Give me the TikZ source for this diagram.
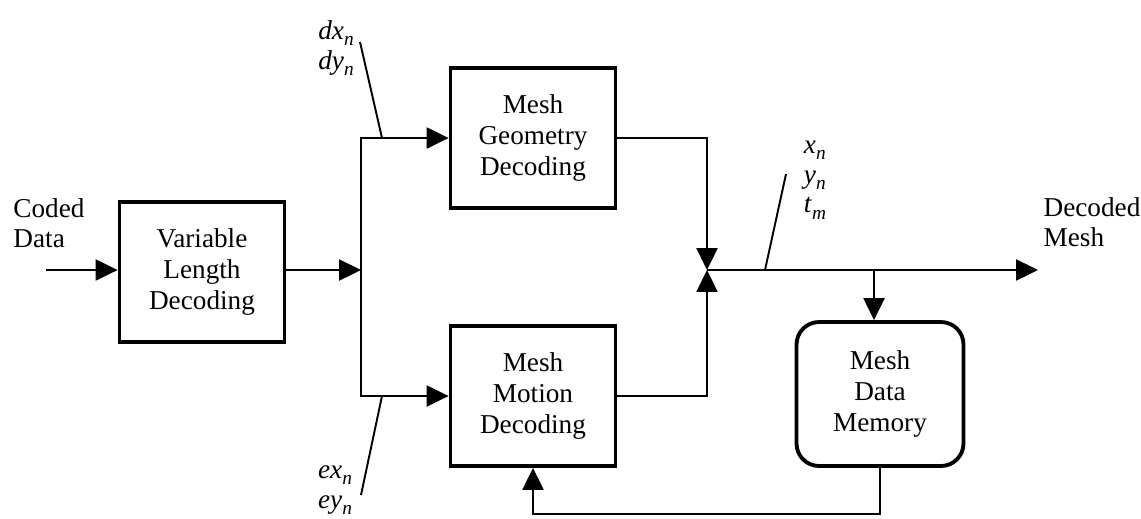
\documentclass[tikz,border=0pt]{standalone}
\usepackage{fontspec}
\setmainfont{Liberation Serif}
\usetikzlibrary{arrows.meta, positioning, calc}
\newcommand{\sig}[2]{\textit{#1}\raisebox{-0.5ex}{\fontsize{11}{11}\selectfont\textit{#2}}}
\tikzset{
    % block styles
    block/.style={
        rectangle,
        draw=black,
        line width=2.2pt,
        minimum width=3.3cm,
        minimum height=2.8cm,
        align=center,
        font=\fontsize{15.5}{17.6}\selectfont
    },
    memory block/.style={
        block,
        rounded corners=0.45cm,
        minimum width=3.34cm,
        minimum height=2.88cm
    },
    label text/.style={
        align=left,
        inner sep=0pt,
        font=\fontsize{15.5}{17}\selectfont
    },
    arrow style/.style={
        -{Triangle[length=12.5pt,width=12pt]},
        line width=1.1pt
    },
    wire style/.style={
        line width=1.1pt
    }
}
\begin{document}
\begin{tikzpicture}[x=0.02cm, y=-0.02cm]
        \useasboundingbox (0,0) rectangle (1141,518);

        % Blocks
        \node[block] (vld) at (202, 272) {Variable\\Length\\Decoding};
        \node[block] (mgd) at (533, 138) {Mesh\\Geometry\\Decoding};
        \node[block] (mmd) at (533, 396) {Mesh\\Motion\\Decoding};
        \node[memory block] (mem) at (880, 394) {Mesh\\Data\\Memory};

        % Junctions
        \coordinate (in) at (46, 270);
        \coordinate (split) at (361, 270);
        \coordinate (merge) at (707, 270);
        \coordinate (tap) at (874, 270);
        \coordinate (out) at (1038, 270);

        % Input and output texts
        \node[label text] (coded) at (49, 223) {Coded\\Data};
        \node[label text] (decoded) at (1092, 222) {Decoded\\Mesh};

        % Arrows
        \draw[arrow style] (in) -- (vld.west |- in);
        \draw[arrow style] (vld.east |- split) -- (split);
        \draw[arrow style] (split) |- (mgd.west);
        \draw[arrow style] (split) |- (mmd.west);
        \draw[arrow style] (mgd.east) -| (merge);
        \draw[arrow style] (mmd.east) -| (merge);
        \draw[arrow style] (merge) -- (out);
        \draw[arrow style] (tap) -- (tap |- mem.north);
        \draw[arrow style] (mem.south) -- ++(0, 46) -| (mmd.south);

        % Signal labels
        \coordinate (dxfoot) at (382, 138);
        \coordinate (exfoot) at (382, 396);
        \coordinate (xfoot) at (765, 270);
        \node[label text] (dxlab) at (336, 48) {\sig{dx}{n}\\\sig{dy}{n}};
        \node[label text] (exlab) at (335, 490) {\sig{ex}{n}\\\sig{ey}{n}};
        \node[label text] (xlab) at (815, 180) {\sig{x}{n}\\\sig{y}{n}\\\sig{t}{m}};
        \draw[wire style] (dxfoot) -- (360, 42);
        \draw[wire style] (exfoot) -- (361, 495);
        \draw[wire style] (xfoot) -- (786, 174);
    \end{tikzpicture}
\end{document}
